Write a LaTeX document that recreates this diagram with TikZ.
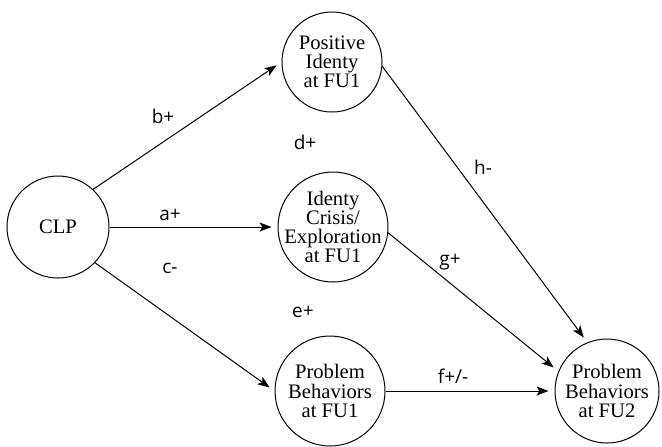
\documentclass[tikz,border=0pt]{standalone}
\usepackage{fontspec}
\setmainfont{Liberation Serif}
\newfontfamily\lblfont{Open Sans}
\usetikzlibrary{arrows.meta}

\begin{document}
\begin{tikzpicture}[x=0.5pt, y=-0.5pt, font=\fontsize{10.3}{9.6}\selectfont,
	var/.style={circle, draw, line width=0.5pt, inner sep=0pt, minimum size=#1},
	vartext/.style={align=center, inner sep=0pt},
	lbl/.style={font=\lblfont\fontsize{9.5}{11}\selectfont, inner sep=1pt},
	eff/.style={draw, line width=0.5pt, -{Stealth[length=6pt,width=4.5pt,inset=1.5pt]}, shorten >=3pt}]
	\useasboundingbox (0,0) rectangle (662,446);

	\node[var=51pt, label={[vartext]center:CLP}]	(clp) at (58,227) {};
	\node[var=50pt, label={[vartext]center:Positive\\Identy\\at FU1}]	(pos) at (332,62) {};
	\node[var=55pt, label={[vartext]center:Identy\\Crisis/\\Exploration\\at FU1}]	(crisis) at (333,227) {};
	\node[var=55pt, label={[vartext]center:Problem\\Behaviors\\at FU1}]	(pbone) at (330,391) {};
	\node[var=52pt, label={[vartext]center:Problem\\Behaviors\\at FU2}]	(pbtwo) at (607,391) {};

	\draw[eff]	(clp.47) -- (pos.west);
	\draw[eff]	(clp.east) -- (crisis.west);
	\draw[eff]	(clp.-44) -- (pbone.west);
	\draw[eff]	(pos.-5) -- (pbtwo.112);
	\draw[eff]	(crisis.-6) -- (pbtwo.158);
	\draw[eff]	(pbone.east) -- (pbtwo.west);

	\node[lbl]	(la) at (170,215) {a+};
	\node[lbl]	(lb) at (163,116) {b+};
	\node[lbl]	(lc) at (170,268) {c-};
	\node[lbl]	(ld) at (305,142) {d+};
	\node[lbl]	(le) at (303,312) {e+};
	\node[lbl]	(lf) at (453,376) {f+/-};
	\node[lbl]	(lg) at (450,262) {g+};
	\node[lbl]	(lh) at (483,167) {h-};
\end{tikzpicture}
\end{document}
